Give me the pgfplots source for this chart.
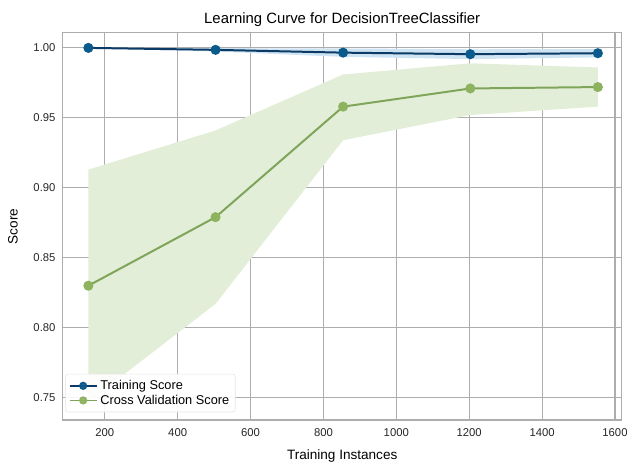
\documentclass[border=0pt]{standalone}
\usepackage{pgfplots}
\pgfplotsset{compat=1.18}
\usepackage{fontspec}
\setmainfont{Liberation Sans}
\definecolor{trline}{HTML}{0B3A66}
\definecolor{trmark}{HTML}{0A5A8C}
\definecolor{trband}{HTML}{CFE4F2}
\definecolor{cvline}{HTML}{7EA55A}
\definecolor{cvmark}{HTML}{8DB35E}
\definecolor{cvband}{HTML}{E3EED8}
\definecolor{gridc}{HTML}{ADADAD}
\begin{document}
\begin{tikzpicture}
\begin{axis}[
  scale only axis,
  width=420pt, height=291pt,
  xmin=85, xmax=1618, ymin=0.734, ymax=1.0107,
  xtick={200,400,...,1600},
  ytick={0.75,0.80,0.85,0.90,0.95,1.00},
  yticklabel style={xshift=-2pt, /pgf/number format/.cd, fixed, fixed zerofill, precision=2},
  xticklabel style={yshift=-3pt, /pgf/number format/.cd, 1000 sep={}},
  /pgf/number format/assume math mode=true,
  tick label style={font=\fontsize{8.5}{10}\selectfont, text=black!85},
  label style={font=\fontsize{10.2}{12}\selectfont},
  title style={font=\fontsize{11.2}{13}\selectfont, yshift=-4.5pt},
  title={Learning Curve for DecisionTreeClassifier},
  xlabel={Training Instances}, ylabel={Score},
  xlabel style={yshift=-3pt}, ylabel style={yshift=5pt},
  major tick length=0pt,
  grid=major, grid style={gridc, line width=0.8pt},
  axis line style={gridc, line width=0.8pt},
  legend style={at={(0.004,0.02)}, anchor=south west, draw=black!10, fill=white, fill opacity=0.9, text opacity=1, rounded corners=2pt, font=\fontsize{9.6}{11}\selectfont, row sep=-1.5pt, inner sep=2.5pt},
  legend cell align=left,
  legend image code/.code={\draw[mark repeat=2,mark phase=2,#1,line width=1.3pt,mark size=2.4pt] plot coordinates {(0cm,0cm)(0.36cm,0cm)(0.72cm,0cm)};},
]
% bands
\addplot[fill=trband, draw=none, forget plot] coordinates {
  (155,1.000) (504,0.9998) (854,0.9996) (1203,0.9990) (1553,0.9992)
  (1553,0.9932) (1203,0.9920) (854,0.9936) (504,0.9974) (155,1.000)} --cycle;
\addplot[fill=cvband, draw=none, forget plot] coordinates {
  (155,0.913) (504,0.941) (854,0.981) (1203,0.989) (1553,0.986)
  (1553,0.958) (1203,0.952) (854,0.934) (504,0.817) (155,0.747)} --cycle;
\addplot[trline, line width=1.5pt, mark=*, mark size=3pt, mark options={fill=trmark, draw=trmark}] coordinates {
  (155,1.000) (504,0.9986) (854,0.9966) (1203,0.9955) (1553,0.9962)};
\addlegendentry{Training Score}
\addplot[cvline, line width=1.5pt, mark=*, mark size=3pt, mark options={fill=cvmark, draw=cvmark}] coordinates {
  (155,0.830) (504,0.879) (854,0.958) (1203,0.971) (1553,0.972)};
\addlegendentry{Cross Validation Score}
\end{axis}
\path (current axis.south west) ++(-47.25pt,-29.25pt) coordinate (bl);
\path (current axis.north east) ++(6.75pt,24.75pt) coordinate (tr);
\path (bl) rectangle (tr);
\end{tikzpicture}
\end{document}
